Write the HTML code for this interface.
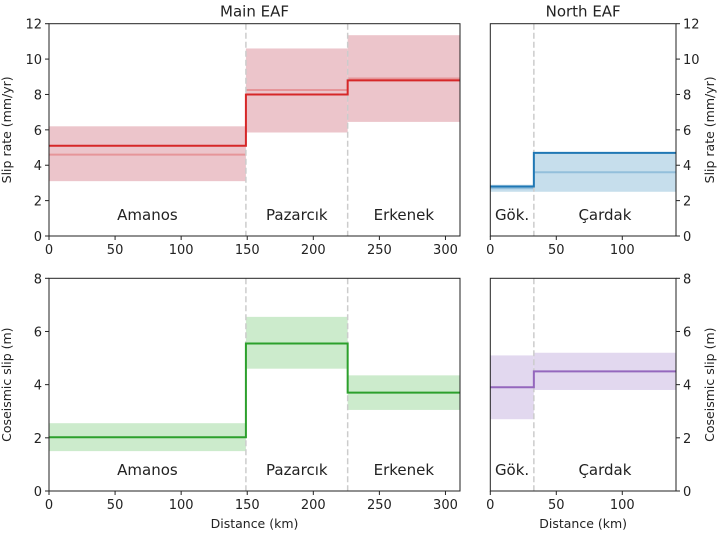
<!DOCTYPE html>
<html><head><meta charset="utf-8"><style>
body{margin:0;background:#fff}
text{font-family:"DejaVu Sans","Liberation Sans",sans-serif;fill:#222}
</style></head><body>
<svg id="fig" width="725" height="535" xmlns="http://www.w3.org/2000/svg"></svg>
<script>
// Data
const mainBounds=[0,149,226,311];
const mainNames=["Amanos","Pazarcık","Erkenek"];
const northBounds=[0,33,140.7];
const northNames=["Gök.","Çardak"];
const rateMain=[5.1,8.0,8.8];
const rateMainLo=[3.1,5.85,6.45];
const rateMainHi=[6.2,10.6,11.35];
const rateMainMed=[4.6,8.25,8.9];
const rateNorth=[2.8,4.7];
const rateNorthLo=[2.5,2.5];
const rateNorthHi=[2.9,4.75];
const rateNorthMed=[2.7,3.6];
const slipMain=[2.02,5.55,3.7];
const slipMainLo=[1.5,4.6,3.05];
const slipMainHi=[2.55,6.55,4.35];
const slipNorth=[3.9,4.5];
const slipNorthLo=[2.7,3.8];
const slipNorthHi=[5.1,5.2];
const mainTicks=[0,50,100,150,200,250,300];
const northTicks=[0,50,100];
const rateTicks=[0,2,4,6,8,10,12];
const slipTicks=[0,2,4,6,8];

const NS="http://www.w3.org/2000/svg";
const svg=document.getElementById('fig');
function el(tag,attrs,parent){const e=document.createElementNS(NS,tag);for(const k in attrs)e.setAttribute(k,attrs[k]);(parent||svg).appendChild(e);return e;}

function panel(o){
  const g=el('g',{});
  
  
  const X=v=>o.x0+(v-o.xmin)/(o.xmax-o.xmin)*(o.x1-o.x0);
  const Y=v=>o.y0-(v/o.ymax)*(o.y0-o.y1);
  const b=o.bounds;
  for(let i=0;i<o.mean.length;i++){
    const r=el('rect',{x:X(b[i]),y:Y(o.hi[i]),width:X(b[i+1])-X(b[i]),height:Y(o.lo[i])-Y(o.hi[i]),fill:o.band},g);
    
    
    if(o.med){
      const m=el('line',{x1:X(b[i]),x2:X(b[i+1]),y1:Y(o.med[i]),y2:Y(o.med[i]),stroke:o.color,'stroke-opacity':0.3,'stroke-width':2},g);
      
      
    }
  }
  for(let i=1;i<b.length-1;i++){
    const d=el('line',{x1:X(b[i]),x2:X(b[i]),y1:o.y1,y2:o.y0,stroke:'#ccc','stroke-width':1.5,'stroke-dasharray':'6,3'},g);
    
    
  }
  let p='';
  for(let i=0;i<o.mean.length;i++){
    p+=(i?'L':'M')+X(b[i])+','+Y(o.mean[i])+'L'+X(b[i+1])+','+Y(o.mean[i]);
  }
  const s=el('path',{d:p,fill:'none',stroke:o.color,'stroke-width':2},g);
  
  
  for(let i=0;i<o.names.length;i++){
    const t=el('text',{x:(X(b[i])+X(b[i+1]))/2,y:o.y0-16,'text-anchor':'middle','font-size':15},g);
    t.textContent=o.names[i];
    
    
  }
  el('rect',{x:o.x0,y:o.y1,width:o.x1-o.x0,height:o.y0-o.y1,fill:'none',stroke:'#222','stroke-width':1},g);
  o.xt.forEach(v=>{
    el('line',{x1:X(v),x2:X(v),y1:o.y0,y2:o.y0+4,stroke:'#222'},g);
    const t=el('text',{x:X(v),y:o.y0+18,'text-anchor':'middle','font-size':13},g);
    t.textContent=v;
    
    
  });
  o.yt.forEach(v=>{
    const right=o.right;
    const xe=right?o.x1:o.x0;
    el('line',{x1:xe,x2:right?xe+4:xe-4,y1:Y(v),y2:Y(v),stroke:'#222'},g);
    const t=el('text',{x:right?xe+7:xe-7,y:Y(v)+5,'text-anchor':right?'start':'end','font-size':13},g);
    t.textContent=v;
    
    
  });
  const lx=o.right?o.x1+38:o.x0-38, ly=(o.y0+o.y1)/2;
  const yl=el('text',{x:lx,y:ly,'text-anchor':'middle','font-size':12.5,transform:`rotate(-90 ${lx} ${ly})`},g);
  yl.textContent=o.ylabel;
  
  
  if(o.title){
    const t=el('text',{x:(o.x0+o.x1)/2,y:o.y1-7,'text-anchor':'middle','font-size':15},g);
    t.textContent=o.title;
    
    
  }
  if(o.xlabel){
    const t=el('text',{x:(o.x0+o.x1)/2,y:o.y0+37,'text-anchor':'middle','font-size':12.5},g);
    t.textContent=o.xlabel;
    
    
  }
}
const TL={y0:236,y1:23.7}, BL={y0:491,y1:278.3};
panel({name:'main-rate-panel',x0:49,x1:460,xmin:0,xmax:311,...TL,ymax:12,bounds:mainBounds,names:mainNames,mean:rateMain,lo:rateMainLo,hi:rateMainHi,med:rateMainMed,color:'#d62728',band:'#ecc5cb',xt:mainTicks,yt:rateTicks,ylabel:'Slip rate (mm/yr)',title:'Main EAF'});
panel({name:'north-rate-panel',x0:490.3,x1:676,xmin:0,xmax:140.7,...TL,ymax:12,bounds:northBounds,names:northNames,mean:rateNorth,lo:rateNorthLo,hi:rateNorthHi,med:rateNorthMed,color:'#1f77b4',band:'#c6deec',xt:northTicks,yt:rateTicks,ylabel:'Slip rate (mm/yr)',title:'North EAF',right:true});
panel({name:'main-slip-panel',x0:49,x1:460,xmin:0,xmax:311,...BL,ymax:8,bounds:mainBounds,names:mainNames,mean:slipMain,lo:slipMainLo,hi:slipMainHi,color:'#2ca02c',band:'#ccebcc',xt:mainTicks,yt:slipTicks,ylabel:'Coseismic slip (m)',xlabel:'Distance (km)'});
panel({name:'north-slip-panel',x0:490.3,x1:676,xmin:0,xmax:140.7,...BL,ymax:8,bounds:northBounds,names:northNames,mean:slipNorth,lo:slipNorthLo,hi:slipNorthHi,color:'#9467bd',band:'#e2d8ef',xt:northTicks,yt:slipTicks,ylabel:'Coseismic slip (m)',xlabel:'Distance (km)',right:true});
</script>
</body></html>
